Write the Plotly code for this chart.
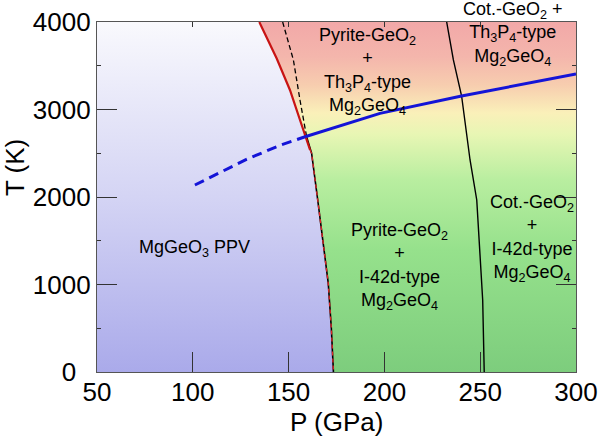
import plotly.graph_objects as go

# ---- data ----
# PPV boundary, upper part (red solid)
ppv_up_P = [134.7, 143.8, 150.7, 154.2, 157.7, 161.2]
ppv_up_T = [4000, 3583, 3223, 2994, 2746, 2537]
# PPV boundary, lower part (black solid + red dashed)
ppv_lo_P = [159.4, 162.0, 165.2, 167.9, 170.7, 172.3, 173.4]
ppv_lo_T = [2689, 2500, 1966, 1500, 1013, 500, 0]
# black dashed boundary
dash_P = [146.9, 152.5, 156.0, 159.4]
dash_T = [4000, 3566, 3100, 2689]
# Pyrite / cotunnite boundary
cot_P = [232.5, 236.0, 240.3, 244.7, 248.2, 251.3, 252.1]
cot_T = [4000, 3566, 3154, 2423, 1966, 823, 0]
# Th3P4 / I-42d boundary (blue)
blue_dash_P = [101.1, 128.0, 145.5, 158.6]
blue_dash_T = [2137, 2430, 2590, 2689]
blue_P = [158.6, 180.3, 197.7, 240.3, 300.0]
blue_T = [2689, 2842, 2956, 3154, 3406]

x_ticks = [50, 100, 150, 200, 250, 300]
y_ticks = [0, 1000, 2000, 3000, 4000]
y_ticktext = ["0\u00a0\u00a0", "1000", "2000", "3000", "4000"]

P_MIN, P_MAX, T_MIN, T_MAX = 50, 300, 0, 4000

# region outline built from the boundary data
bnd_P = ppv_up_P + [p for p, t in zip(ppv_lo_P, ppv_lo_T) if t < ppv_up_T[-1]]
bnd_T = ppv_up_T + [t for t in ppv_lo_T if t < ppv_up_T[-1]]

left_P = [P_MIN] + bnd_P + [P_MIN]
left_T = [T_MAX] + bnd_T + [T_MIN]
right_P = bnd_P + [P_MAX, P_MAX]
right_T = bnd_T + [T_MIN, T_MAX]

FONT = "Arial, Liberation Sans, sans-serif"
fig = go.Figure()

fig.add_trace(go.Scatter(
    x=left_P, y=left_T, mode="none", fill="toself",
    fillgradient=dict(type="vertical", start=T_MIN, stop=T_MAX,
                      colorscale=[[0, "rgb(170,170,234)"], [0.5, "rgb(212,212,244)"],
                                  [1, "rgb(249,249,253)"]]),
    hoverinfo="skip", showlegend=False))
fig.add_trace(go.Scatter(
    x=right_P, y=right_T, mode="none", fill="toself",
    fillgradient=dict(type="vertical", start=T_MIN, stop=T_MAX,
                      colorscale=[[0, "rgb(125,205,125)"], [0.35, "rgb(150,225,140)"],
                                  [0.55, "rgb(185,238,160)"], [0.68, "rgb(232,246,180)"],
                                  [0.74, "rgb(250,240,185)"], [0.82, "rgb(247,205,175)"],
                                  [0.9, "rgb(244,182,172)"], [1, "rgb(242,168,168)"]]),
    hoverinfo="skip", showlegend=False))

def line(x, y, color, width, dash="solid"):
    fig.add_trace(go.Scatter(x=x, y=y, mode="lines", line=dict(color=color, width=width, dash=dash),
                             hoverinfo="skip", showlegend=False))

line(ppv_lo_P, ppv_lo_T, "black", 1.6)
line(dash_P, dash_T, "black", 1.3, "5px,3px")
line(cot_P, cot_T, "black", 1.4)
line(ppv_up_P, ppv_up_T, "rgb(200,20,20)", 2.2)
line([ppv_up_P[-1]] + bnd_P[len(ppv_up_P):], [ppv_up_T[-1]] + bnd_T[len(ppv_up_T):],
     "rgb(220,40,40)", 1.3, "4px,3px")
line(blue_dash_P, blue_dash_T, "rgb(20,20,215)", 3, "10px,6px")
line(blue_P, blue_T, "rgb(20,20,215)", 3)

labels = [
    (191.4, 3429, "Pyrite-GeO<sub>2</sub><br>+<br>Th<sub>3</sub>P<sub>4</sub>-type<br>Mg<sub>2</sub>GeO<sub>4</sub>"),
    (267.0, 3863, "Cot.-GeO<sub>2</sub> +<br>Th<sub>3</sub>P<sub>4</sub>-type<br>Mg<sub>2</sub>GeO<sub>4</sub>"),
    (101.0, 1417, "MgGeO<sub>3</sub> PPV"),
    (208.0, 1211, "Pyrite-GeO<sub>2</sub><br>+<br>I-42d-type<br>Mg<sub>2</sub>GeO<sub>4</sub>"),
    (277.0, 1531, "Cot.-GeO<sub>2</sub><br>+<br>I-42d-type<br>Mg<sub>2</sub>GeO<sub>4</sub>"),
]
for x, y, t in labels:
    fig.add_annotation(x=x, y=y, text=t, showarrow=False, xanchor="center", yanchor="middle",
                       font=dict(family=FONT, size=18, color="black"), align="center")

# axis titles (paper coords are relative to the plot area)
fig.add_annotation(x=0.5, y=-0.143, xref="paper", yref="paper", text="P (GPa)", showarrow=False,
                   xanchor="center", yanchor="middle", font=dict(family=FONT, size=26, color="black"))
fig.add_annotation(x=-0.171, y=0.583, xref="paper", yref="paper", text="T (K)",
                   showarrow=False, textangle=-90, xanchor="center", yanchor="middle",
                   font=dict(family=FONT, size=26, color="black"))

axis_common = dict(showline=True, linecolor="#555", linewidth=1.2, showgrid=False, automargin=False,
                   zeroline=False, ticks="inside", tickcolor="#333", tickwidth=1.2)
fig.update_layout(
    width=600, height=439, margin=dict(l=97, r=24, t=22, b=67, autoexpand=False),
    paper_bgcolor="white", plot_bgcolor="white",
    font=dict(family=FONT, size=26, color="black"),
    xaxis=dict(range=[P_MIN, P_MAX], tickvals=x_ticks, ticklen=20, ticklabelstandoff=-3, **axis_common),
    xaxis2=dict(range=[P_MIN, P_MAX], overlaying="x", side="top", tickvals=x_ticks[1:-1],
                ticklen=5, showticklabels=False, **axis_common),
    yaxis=dict(range=[T_MIN, T_MAX], tickvals=y_ticks, ticktext=y_ticktext, ticklen=20,
               minor=dict(ticks="inside", ticklen=4, dtick=500, tickcolor="#333"), **axis_common),
    yaxis2=dict(range=[T_MIN, T_MAX], overlaying="y", side="right", tickvals=y_ticks[1:-1],
                ticklen=20, showticklabels=False,
                minor=dict(ticks="inside", ticklen=4, dtick=500, tickcolor="#333"), **axis_common),
)
fig.add_trace(go.Scatter(x=[None], y=[None], xaxis="x2", yaxis="y2", showlegend=False, hoverinfo="skip"))
fig.write_html("out.html", config={"displayModeBar": False},
               post_script="document.body.style.margin='0px';")
